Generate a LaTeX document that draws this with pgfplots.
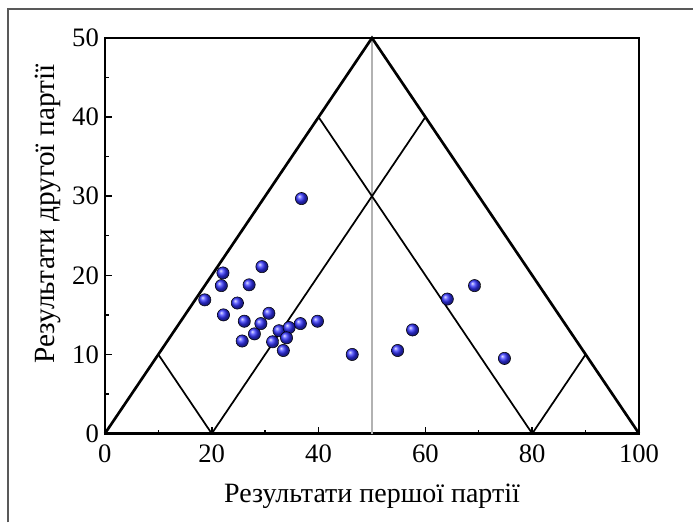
\documentclass[border=0pt]{standalone}
\usepackage{fontspec}
\setmainfont{Liberation Serif}
\usepackage{pgfplots}
\pgfplotsset{compat=1.18}
\definecolor{ptblue}{rgb}{0.2,0.2,1}

\begin{document}
\begin{tikzpicture}
\begin{axis}[
  scale only axis,
  width=401pt, height=297pt,
  xmin=0, xmax=100, ymin=0, ymax=50,
  xtick={0,20,...,100}, ytick={0,10,...,50},
  minor x tick num=1, minor y tick num=1,
  tick align=inside, tick pos=left,
  major tick length=5pt, minor tick length=3pt,
  major tick style={line width=1.2pt, black},
  minor tick style={line width=1pt, black},
  axis line style={line width=2pt},
  ticklabel style={font=\fontsize{20}{22}\selectfont},
  xticklabel style={yshift=-5pt},
  yticklabel style={xshift=-1pt},
  /pgf/number format/assume math mode=true,
  xlabel={Результати першої партії},
  ylabel={Результати другої партії},
  xlabel style={font=\fontsize{21}{24}\selectfont, yshift=-9pt},
  ylabel style={font=\fontsize{22}{24}\selectfont, at={(ticklabel cs:0.555)}, yshift=2pt},
  clip=false,
]
% gray line at 50
\addplot[gray!60, line width=0.8pt] coordinates {(50,0) (50,50)};
% outer triangle
\addplot[black, line width=2pt, line join=miter] coordinates {(0,0) (50,50) (100,0)};
% inner lines
\addplot[black, line width=1.3pt] coordinates {(10,10) (20,0)};
\addplot[black, line width=1.3pt] coordinates {(20,0) (60,40)};
\addplot[black, line width=1.3pt] coordinates {(40,40) (80,0)};
\addplot[black, line width=1.3pt] coordinates {(80,0) (90,10)};
% data
\addplot[only marks, mark=ball, ball color=ptblue, mark size=4.6pt] coordinates {
  (36.8,29.7) (29.4,21.1) (22.1,20.3) (21.8,18.7) (27.0,18.8)
  (18.7,16.9) (24.8,16.5) (22.2,15.0) (30.7,15.2) (26.1,14.2)
  (29.2,13.9) (28.0,12.6) (25.7,11.7) (32.6,13.0) (34.5,13.4)
  (36.6,13.9) (39.8,14.2) (34.0,12.1) (31.4,11.6) (33.4,10.5)
  (46.3,10.0) (54.8,10.5) (57.6,13.1) (64.1,17.0) (69.2,18.7)
  (74.8,9.5)
};
\end{axis}
% page frame (screenshot border)
\path (-78.75pt,-66.75pt) rectangle (441.75pt,325.5pt);
\draw[gray!70!black, line width=1pt] (-72.75pt,-66.75pt) -- (-72.75pt,318.75pt) -- (441.75pt,318.75pt);
\end{tikzpicture}
\end{document}
